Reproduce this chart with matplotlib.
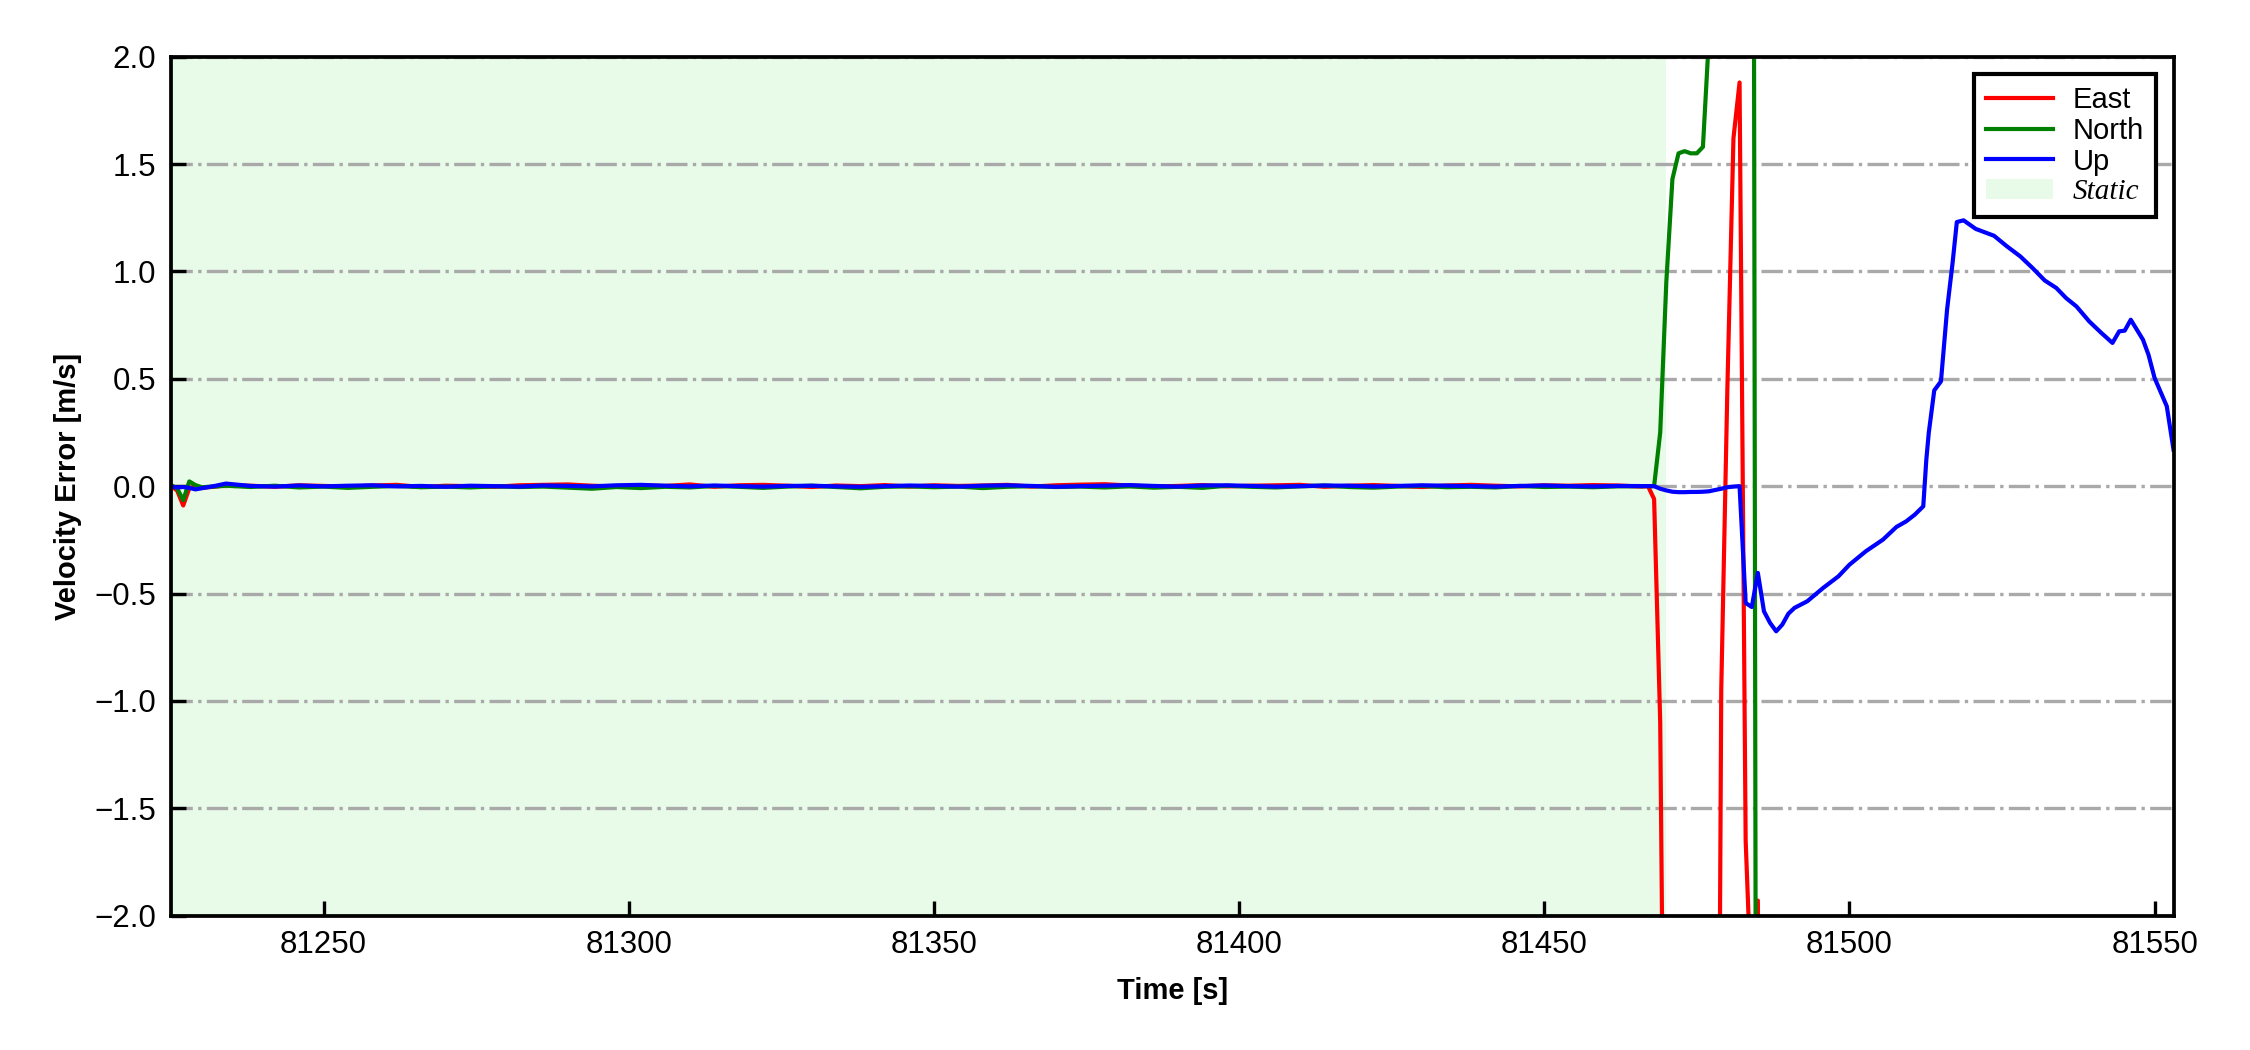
import numpy as np
import matplotlib
matplotlib.use('Agg')
import matplotlib.pyplot as plt
from matplotlib.patches import Patch
from matplotlib.font_manager import FontProperties

DPI = 300

plt.rcParams['font.family'] = ['Liberation Sans', 'DejaVu Sans']

# static period: first few epochs at 1 s, then a 4 s grid
t_init = [81225, 81226, 81227, 81228, 81229, 81230, 81232, 81234]
t_grid = np.arange(81238, 81467, 4)

east_init = [0.0, -0.02, -0.09, -0.01, 0.0, -0.008, -0.003, 0.004]
north_init = [0.005, -0.01, -0.065, 0.022, 0.005, -0.005, -0.002, 0.002]
up_init = [-0.003, -0.006, -0.004, -0.008, -0.015, -0.01, 0.0, 0.012]

east_grid = [0.002, -0.003, 0.004, 0.001, -0.002, 0.003, 0.006, -0.004, 0.002, 0.000,
             -0.003, 0.004, 0.006, 0.008, 0.002, -0.002, 0.003, 0.001, 0.008, -0.003,
             0.004, 0.006, 0.002, -0.004, 0.003, 0.000, 0.005, -0.002, 0.004, 0.001,
             0.003, 0.006, -0.002, 0.004, 0.007, 0.009, 0.003, -0.002, 0.001, 0.005,
             -0.001, 0.002, 0.004, 0.006, -0.003, 0.002, 0.005, 0.001, -0.004, 0.003,
             0.006, 0.002, -0.001, 0.004, 0.002, 0.005, 0.003, -0.002]
north_grid = [-0.004, 0.002, -0.006, -0.002, -0.008, -0.003, 0.001, -0.005, -0.002, -0.006,
              -0.001, -0.004, -0.002, -0.007, -0.012, -0.004, -0.009, -0.003, -0.006, 0.001,
              -0.003, -0.008, -0.002, 0.002, -0.004, -0.010, -0.003, -0.001, -0.005, -0.002,
              -0.009, -0.003, 0.000, -0.004, -0.002, -0.006, -0.001, -0.007, -0.003, -0.008,
              0.002, -0.003, -0.006, -0.001, 0.003, -0.004, -0.007, -0.002, 0.001, -0.005,
              -0.003, -0.006, 0.001, -0.004, -0.002, -0.005, -0.001, 0.000]
up_grid = [0.001, -0.002, 0.003, -0.001, 0.002, 0.004, -0.001, 0.001, -0.003, 0.002,
           0.000, -0.002, 0.003, 0.001, -0.001, 0.004, 0.006, 0.002, -0.001, 0.003,
           0.000, -0.002, 0.001, 0.002, -0.001, -0.003, 0.000, 0.003, 0.001, -0.002,
           0.002, 0.004, 0.001, -0.003, 0.000, 0.002, 0.005, 0.001, -0.002, 0.003,
           0.004, 0.001, -0.002, 0.000, 0.003, 0.002, -0.001, 0.001, 0.004, 0.002,
           0.000, -0.002, 0.001, 0.003, 0.000, -0.001, 0.001, 0.000]

# after the static period
t_east_dyn = [81467, 81468, 81469, 81470, 81471, 81472, 81473, 81474, 81475, 81476,
              81477, 81478, 81479, 81480, 81481, 81482, 81483, 81484, 81485, 81486,
              81490, 81500, 81510, 81520, 81530, 81540, 81553.1]
east_dyn = [0.0, -0.06, -1.10, -4.2, -6.0, -7.5, -8.0, -8.2, -7.8, -7.0,
            -6.5, -6.2, -0.95, 0.45, 1.62, 1.88, -1.65, -2.4, -1.93, -7.0,
            -9.0, -10.0, -9.0, -8.0, -7.0, -7.0, -6.0]

t_north_dyn = [81467, 81468, 81469, 81470, 81471, 81472, 81473, 81474, 81475, 81476,
               81477, 81478, 81479, 81480, 81481, 81482, 81483, 81484, 81485,
               81490, 81500, 81510, 81520, 81530, 81540, 81553.1]
north_dyn = [0.0, 0.0, 0.25, 0.95, 1.43, 1.55, 1.56, 1.55, 1.55, 1.58,
             2.1, 3.5, 5.0, 6.5, 7.5, 8.2, 8.5, 8.0, -8.0,
             -10.0, -11.0, -10.0, -9.0, -8.0, -8.0, -7.0]

t_up_dyn = [81467, 81468, 81469, 81470, 81471, 81472, 81473, 81474, 81475, 81476,
            81477, 81478, 81479, 81480, 81481, 81482, 81483, 81484, 81485, 81486,
            81487, 81488, 81489, 81490, 81491, 81493.1, 81495.7, 81498.2, 81500.0, 81502.7,
            81505.5, 81507.7, 81509.3, 81510.7, 81512.1, 81512.6, 81513.0, 81513.9, 81515.0, 81516.0,
            81516.9, 81517.6, 81518.7, 81520.7, 81523.7, 81525.8, 81528.0, 81530.0, 81532.0, 81533.9,
            81535.5, 81537.2, 81539.3, 81541.3, 81543.1, 81544.2, 81545.1, 81546.1, 81548.1, 81549.0,
            81550.0, 81552.0, 81553.1]
up_dyn = [0.0, 0.0, -0.012, -0.02, -0.026, -0.028, -0.028, -0.027, -0.027, -0.026,
          -0.024, -0.018, -0.012, -0.005, -0.002, 0.0, -0.544, -0.563, -0.404, -0.583,
          -0.637, -0.676, -0.645, -0.594, -0.567, -0.536, -0.474, -0.42, -0.366, -0.303,
          -0.249, -0.19, -0.164, -0.133, -0.094, 0.123, 0.248, 0.446, 0.488, 0.822,
          1.039, 1.230, 1.238, 1.198, 1.166, 1.117, 1.07, 1.016, 0.958, 0.923,
          0.876, 0.837, 0.767, 0.713, 0.667, 0.721, 0.724, 0.775, 0.682, 0.612,
          0.504, 0.372, 0.17]

static_start, static_end = 81225, 81470

t_static = np.concatenate([t_init, t_grid])
t_e = np.concatenate([t_static, t_east_dyn])
t_n = np.concatenate([t_static, t_north_dyn])
t_u = np.concatenate([t_static, t_up_dyn])
east = np.concatenate([east_init, east_grid, east_dyn])
north = np.concatenate([north_init, north_grid, north_dyn])
up = np.concatenate([up_init, up_grid, up_dyn])

fig, ax = plt.subplots(figsize=(2250/DPI, 1050/DPI), dpi=DPI)
fig.subplots_adjust(left=0.076, right=0.966, bottom=0.128, top=0.946)

ax.axvspan(static_start, static_end, facecolor='lightgreen', alpha=0.2, lw=0, zorder=0)
ax.plot(t_e, east, color='red', lw=1.0, label='East')
ax.plot(t_n, north, color='green', lw=1.0, label='North')
ax.plot(t_u, up, color='blue', lw=1.0, label='Up')

ax.set_xlim(t_e[0], t_e[-1])
ax.set_ylim(-2, 2)
ax.set_yticks(np.arange(-2, 2.01, 0.5))
ax.grid(axis='y', linestyle='-.', color='darkgray', lw=0.8)
ax.set_axisbelow(True)
ax.tick_params(direction='in', labelsize=7.5, length=3.5, width=0.8)
for s in ax.spines.values():
    s.set_linewidth(0.9)

ax.set_xlabel('Time [s]', fontsize=7, fontweight='bold')
ax.set_ylabel('Velocity Error [m/s]', fontsize=7, fontweight='bold', labelpad=3)

handles, labels = ax.get_legend_handles_labels()
handles.append(Patch(facecolor='lightgreen', alpha=0.2, lw=0))
labels.append('Static')
leg = ax.legend(handles, labels, loc='upper right', fontsize=7, fancybox=False,
                edgecolor='black', framealpha=1, labelspacing=0.1, borderpad=0.4,
                handlelength=2.3, handletextpad=0.7, borderaxespad=0.6)
leg.get_frame().set_linewidth(1.0)
leg.get_texts()[-1].set_fontproperties(FontProperties(family='Liberation Serif', style='italic', size=7))

plt.savefig('out.png', dpi=DPI)
